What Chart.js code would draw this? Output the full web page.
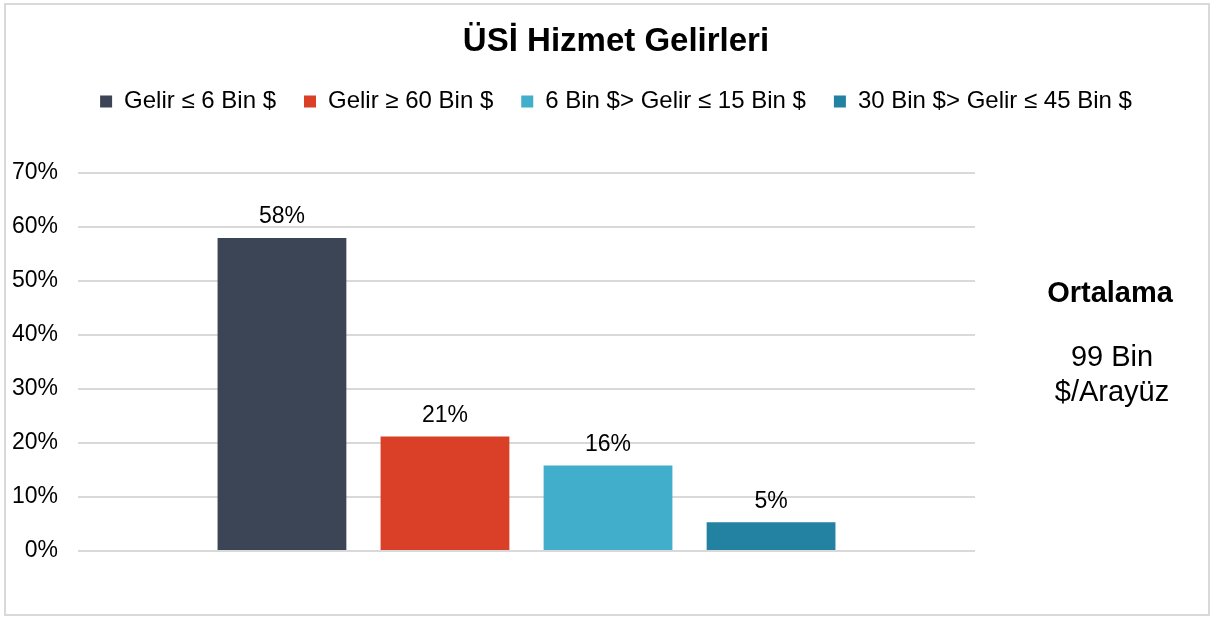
<!DOCTYPE html>
<html>
<head>
<meta charset="utf-8">
<title>ÜSİ Hizmet Gelirleri</title>
<script src="https://cdn.jsdelivr.net/npm/chart.js@4/dist/chart.umd.min.js"></script>
<style>
  html, body { margin: 0; padding: 0; background: #fff; }
  #wrap { width: 1211px; height: 617px; }
</style>
</head>
<body>
<div id="wrap"><canvas id="gelirChart" width="1211" height="617"></canvas></div>
<script>
// data
const categories = [''];
const seriesNames = ['Gelir ≤ 6 Bin $', 'Gelir ≥ 60 Bin $', '6 Bin $> Gelir ≤ 15 Bin $', '30 Bin $> Gelir ≤ 45 Bin $'];
const seriesValues = [57.9, 21.2, 15.8, 5.3];
const seriesLabels = ['58%', '21%', '16%', '5%'];
const seriesColors = ['#3B4556', '#DA3F27', '#41AECC', '#2381A2'];
const yTicks = [0, 10, 20, 30, 40, 50, 60, 70];
const sideTitle = 'Ortalama';
const sideLines = ['99 Bin', '$/Arayüz'];

const font = 'Liberation Sans, Arial, sans-serif';

// a bit of extra room below the legend
const legendMargin = {
  id: 'legendMargin',
  beforeInit(chart) {
    const fit = chart.legend.fit;
    chart.legend.fit = function () {
      fit.bind(chart.legend)();
      this.height += 49;
    };
  }
};

// frame, value labels and the note on the right
const extras = {
  id: 'extras',
  beforeDraw(chart) {
    const ctx = chart.ctx;
    ctx.save();
    ctx.strokeStyle = '#d9d9d9';
    ctx.lineWidth = 2;
    ctx.strokeRect(5, 4, chart.width - 7, chart.height - 6);
    ctx.restore();
  },
  afterDatasetsDraw(chart) {
    const ctx = chart.ctx;
    ctx.save();
    ctx.font = '23px ' + font;
    ctx.fillStyle = '#000';
    ctx.textAlign = 'center';
    ctx.textBaseline = 'middle';
    chart.data.datasets.forEach((ds, i) => {
      const bar = chart.getDatasetMeta(i).data[0];
      ctx.fillText(seriesLabels[i], bar.x, bar.y - 21);
    });
    ctx.restore();
  },
  afterDraw(chart) {
    const ctx = chart.ctx;
    const cx = chart.chartArea.right + 135;
    ctx.save();
    ctx.fillStyle = '#000';
    ctx.textAlign = 'center';
    ctx.textBaseline = 'middle';
    ctx.font = 'bold 29px ' + font;
    ctx.fillText(sideTitle, cx, 294);
    ctx.font = '29px ' + font;
    sideLines.forEach((t, i) => ctx.fillText(t, cx + 2, 358 + i * 35));
    ctx.restore();
  }
};

new Chart(document.getElementById('gelirChart'), {
  type: 'bar',
  data: {
    labels: categories,
    datasets: seriesNames.map((name, i) => ({
      label: name,
      data: [seriesValues[i]],
      backgroundColor: seriesColors[i],
      categoryPercentage: 0.727,
      barPercentage: 0.79
    }))
  },
  options: {
    responsive: false,
    animation: false,
    // negative right padding so title and legend centre like the original
    layout: { padding: { top: 8, left: 0, right: -21, bottom: 66 } },
    plugins: {
      title: {
        display: true,
        text: 'ÜSİ Hizmet Gelirleri',
        color: '#000',
        font: { family: font, size: 33, weight: 'bold' },
        padding: { top: 14, bottom: 0 }
      },
      legend: {
        labels: {
          color: '#000',
          font: { family: font, size: 24 },
          boxWidth: 12,
          boxHeight: 12,
          padding: 28
        }
      },
      tooltip: { enabled: false }
    },
    scales: {
      x: { display: false },
      y: {
        min: 0,
        max: 70,
        afterBuildTicks(axis) { axis.ticks = yTicks.map(v => ({ value: v })); },
        afterFit(axis) { axis.width = 78; },
        ticks: {
          color: '#000',
          font: { family: font, size: 23 },
          padding: 20,
          callback: v => v + '%'
        },
        grid: { color: '#d9d9d9', lineWidth: 2, drawTicks: false },
        border: { display: false }
      },
      // empty axis that keeps the space on the right for the note
      y2: {
        position: 'right',
        min: 0,
        max: 70,
        afterFit(axis) { axis.width = 257; },
        ticks: { display: false },
        grid: { display: false },
        border: { display: false }
      }
    }
  },
  plugins: [legendMargin, extras]
});
</script>
</body>
</html>
